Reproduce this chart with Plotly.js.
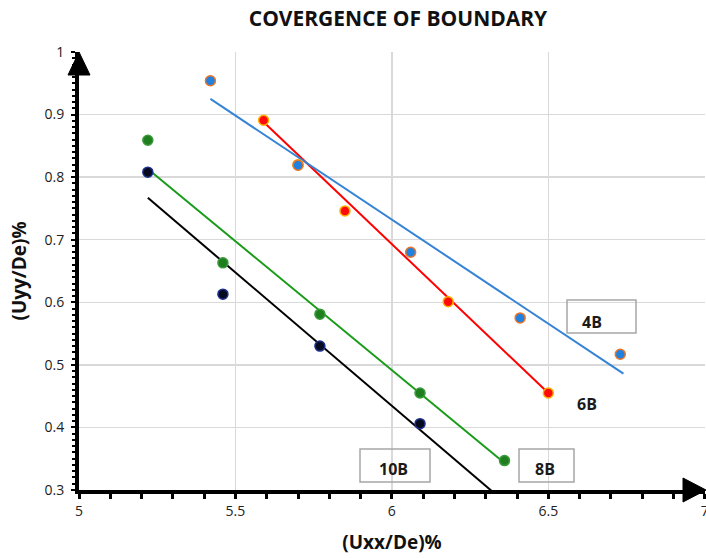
<!DOCTYPE html>
<html><head><meta charset="utf-8">
<script src="https://cdn.plot.ly/plotly-3.0.1.min.js"></script>
<style>html,body{margin:0;padding:0;background:#fff}#chart{width:706px;height:558px}</style>
</head><body><div id="chart"></div>
<script>
// Data
const x4 = [5.42, 5.70, 6.06, 6.41, 6.73];
const y4 = [0.954, 0.819, 0.680, 0.575, 0.517];
const x6 = [5.59, 5.70, 5.85, 6.18, 6.50];
const y6 = [0.891, 0.820, 0.746, 0.601, 0.455];
const x8 = [5.22, 5.46, 5.77, 6.09, 6.36];
const y8 = [0.859, 0.663, 0.581, 0.455, 0.347];
const x10 = [5.22, 5.46, 5.77, 6.09];
const y10 = [0.808, 0.613, 0.530, 0.406];
// trend line end points
const t4x = [5.42, 6.74], t4y = [0.925, 0.486];
const t6x = [5.59, 6.50], t6y = [0.888, 0.455];
const t8x = [5.22, 6.36], t8y = [0.813, 0.343];
const t10x = [5.22, 6.36], t10y = [0.767, 0.281];
const seriesLabels = ['4B', '6B', '8B', '10B'];
const xTicks = [5, 5.5, 6, 6.5, 7];
const yTicks = [0.3, 0.4, 0.5, 0.6, 0.7, 0.8, 0.9, 1];

const FONT = '"Open Sans", "Liberation Sans", sans-serif';

function line(x, y, color, name) {
  return {x: x, y: y, mode: 'lines', type: 'scatter', name: name,
    line: {color: color, width: 2}, hoverinfo: 'skip', showlegend: false};
}
function pts(x, y, fill, edge, name) {
  return {x: x, y: y, mode: 'markers', type: 'scatter', name: name, showlegend: false,
    marker: {size: 10, color: fill, line: {color: edge, width: 1.5}}};
}

const data = [
  line(t10x, t10y, '#000000', seriesLabels[3] + ' trend'),
  line(t8x, t8y, '#1a9c1a', seriesLabels[2] + ' trend'),
  line(t6x, t6y, '#ff0000', seriesLabels[1] + ' trend'),
  line(t4x, t4y, '#3583d6', seriesLabels[0] + ' trend'),
  pts(x10, y10, '#050a1e', '#1c2f8c', seriesLabels[3]),
  pts(x8, y8, '#1f7f1f', '#3a9a3a', seriesLabels[2]),
  pts(x6, y6, '#ff0a0a', '#ffb000', seriesLabels[1]),
  pts(x4, y4, '#1f82e0', '#e8742a', seriesLabels[0])
];

function px2p(px) { return (px - 79) / 626; }
function py2p(py) { return (490 - py) / 438; }

const boxes = [
  [567, 300, 636, 333],
  [519, 449, 574, 482],
  [360, 449, 430, 482]
];
const shapes = boxes.map(b => ({type: 'rect', xref: 'paper', yref: 'paper',
  x0: px2p(b[0]), x1: px2p(b[2]), y0: py2p(b[3]), y1: py2p(b[1]),
  line: {color: '#a6a6a6', width: 1.5}, fillcolor: 'rgba(255,255,255,0)', layer: 'above'}));
// axis arrowheads
shapes.push({type: 'path', xref: 'paper', yref: 'paper',
  path: `M ${px2p(79)} ${py2p(52)} L ${px2p(68)} ${py2p(75)} L ${px2p(90)} ${py2p(75)} Z`,
  fillcolor: '#000', line: {color: '#000', width: 1}, layer: 'above'});
shapes.push({type: 'path', xref: 'paper', yref: 'paper',
  path: `M ${px2p(706)} ${py2p(490)} L ${px2p(683)} ${py2p(478)} L ${px2p(683)} ${py2p(502)} Z`,
  fillcolor: '#000', line: {color: '#000', width: 1}, layer: 'above'});

const labelPos = [[592, 322], [587, 404], [545, 469], [393, 469]];
const annotations = seriesLabels.map((t, i) => ({
  text: '<b>' + t + '</b>', xref: 'paper', yref: 'paper',
  x: px2p(labelPos[i][0]), y: py2p(labelPos[i][1]),
  xanchor: 'center', yanchor: 'middle', showarrow: false,
  font: {family: FONT, size: 16, color: '#1a1a1a'}
}));

const layout = {
  width: 706, height: 558,
  margin: {l: 79, r: 1, t: 52, b: 68, pad: 0},
  paper_bgcolor: '#ffffff', plot_bgcolor: '#ffffff',
  title: {text: '<b>COVERGENCE OF BOUNDARY</b>', xref: 'paper', x: px2p(398), xanchor: 'center',
    yref: 'container', y: 1 - 19 / 558, yanchor: 'middle',
    font: {family: FONT, size: 21, color: '#111'}},
  xaxis: {range: [5, 7.0008], tickvals: xTicks, ticktext: xTicks.map(String),
    showgrid: true, gridcolor: '#d9d9d9', gridwidth: 1.5,
    showline: true, linecolor: '#000', linewidth: 4, zeroline: false,
    ticks: 'outside', ticklen: 5, tickwidth: 3, tickcolor: '#000',
    ticklabeloverflow: 'allow',
    minor: {dtick: 0.1, ticks: 'outside', ticklen: 5, tickwidth: 3, tickcolor: '#000', showgrid: false},
    tickfont: {family: FONT, size: 14, color: '#222'},
    title: {text: '<b>(Uxx/De)%</b>', standoff: 18, font: {family: FONT, size: 19, color: '#111'}}},
  yaxis: {range: [0.3, 1], tickvals: yTicks, ticktext: yTicks.map(String),
    showgrid: true, gridcolor: '#d9d9d9', gridwidth: 1.5,
    showline: true, linecolor: '#000', linewidth: 4, zeroline: false,
    ticks: 'outside', ticklen: 4, tickwidth: 2, tickcolor: '#000',
    minor: {dtick: 0.01, ticks: 'outside', ticklen: 3, tickwidth: 2, tickcolor: '#000', showgrid: false},
    tickfont: {family: FONT, size: 14, color: '#222'},
    ticklabelstandoff: 4,
    title: {text: '<b>(Uyy/De)%</b>', standoff: 14, font: {family: FONT, size: 19, color: '#111'}}},
  shapes: shapes,
  annotations: annotations,
  showlegend: false
};

Plotly.newPlot('chart', data, layout, {displayModeBar: false, staticPlot: true});
</script></body></html>
